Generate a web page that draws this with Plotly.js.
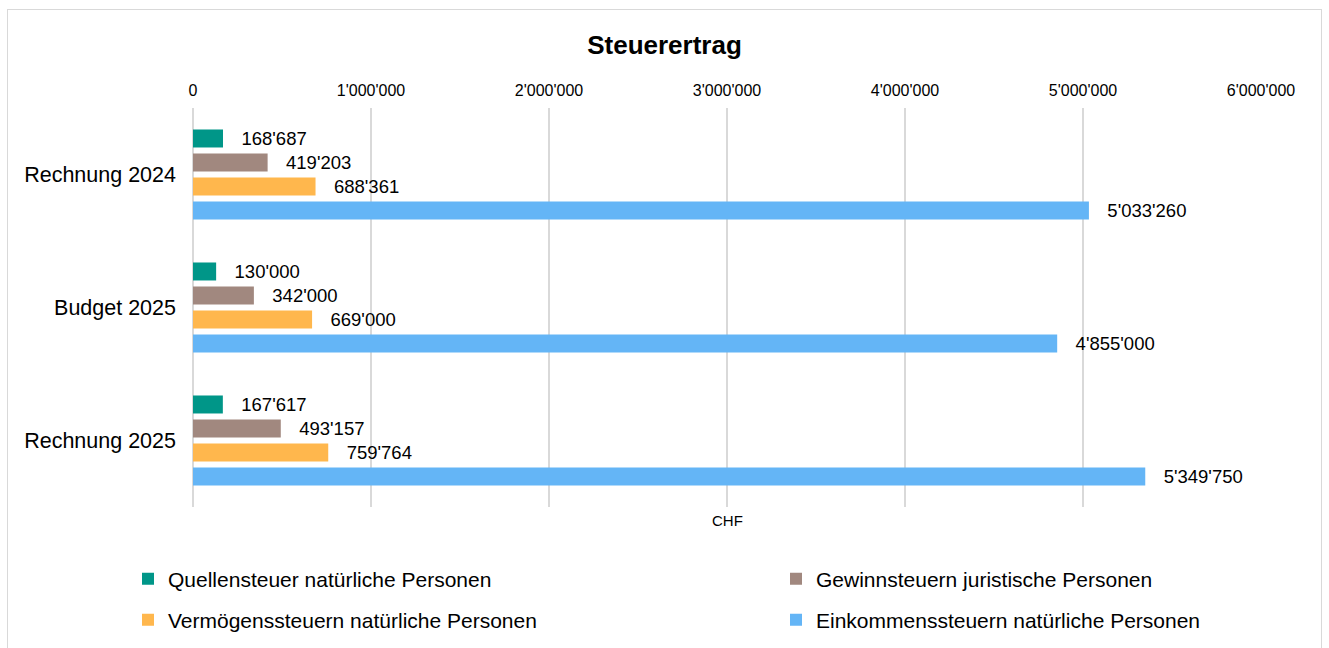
<!DOCTYPE html>
<html>
<head>
<meta charset="utf-8">
<script src="https://cdn.plot.ly/plotly-3.0.1.min.js"></script>
<style>
  html, body { margin: 0; padding: 0; background: #fff; }
  #chart { width: 1329px; height: 648px; }
  #frame { position: absolute; left: 7px; top: 9px; width: 1315px; height: 645px; border: 1px solid #d9d9d9; pointer-events: none; box-sizing: border-box; }
</style>
</head>
<body>
<div id="chart"></div>
<div id="frame"></div>
<script>
const categories = ["Rechnung 2024", "Budget 2025", "Rechnung 2025"];
const seriesNames = [
  "Quellensteuer natürliche Personen",
  "Gewinnsteuern juristische Personen",
  "Vermögenssteuern natürliche Personen",
  "Einkommenssteuern natürliche Personen"
];
const quellensteuer = [168687, 130000, 167617];
const gewinnsteuern = [419203, 342000, 493157];
const vermoegenssteuern = [688361, 669000, 759764];
const einkommenssteuern = [5033260, 4855000, 5349750];
const xTickValues = [0, 1000000, 2000000, 3000000, 4000000, 5000000, 6000000];

const colors = ["#009688", "#a1887f", "#ffb74d", "#64b5f6"];
const allValues = [quellensteuer, gewinnsteuern, vermoegenssteuern, einkommenssteuern];
const legendIds = ["legend", "legend2", "legend3", "legend4"];

const traces = allValues.map((vals, i) => ({
  type: "bar",
  orientation: "h",
  name: seriesNames[i],
  y: categories,
  x: vals,
  marker: { color: colors[i] },
  legend: legendIds[i],
  texttemplate: "\u00a0\u00a0\u00a0%{x:,d}",
  textposition: "outside",
  constraintext: "none",
  cliponaxis: false,
  textfont: { family: "Liberation Sans, Arial, sans-serif", size: 18.5, color: "#000" },
  hoverinfo: "skip"
}));

const legendFont = { family: "Liberation Sans, Arial, sans-serif", size: 21, color: "#000" };
function leg(x, y) {
  return { xref: "container", yref: "container", x: x, y: y, xanchor: "left", yanchor: "middle",
           font: legendFont, bgcolor: "rgba(0,0,0,0)", itemwidth: 30 };
}

const layout = {
  width: 1329,
  height: 648,
  separators: ".'",
  paper_bgcolor: "#fff",
  plot_bgcolor: "#fff",
  margin: { l: 193, r: 68, t: 108, b: 141, autoexpand: false },
  title: {
    text: "<b>Steuerertrag</b>",
    font: { family: "Liberation Sans, Arial, sans-serif", size: 26, color: "#000" },
    x: 0.5, xanchor: "center", xref: "container",
    y: 1 - 45 / 648, yanchor: "middle", yref: "container"
  },
  barmode: "group",
  bargap: 0.278,
  bargroupgap: 0.25,
  xaxis: {
    side: "top",
    range: [0, 6000000],
    tickvals: xTickValues,
    tickformat: ",d",
    tickangle: 0,
    automargin: false,
    ticklabelstandoff: 8,
    showgrid: true,
    gridcolor: "#d9d9d9",
    gridwidth: 1.5,
    zeroline: true,
    zerolinecolor: "#d9d9d9",
    zerolinewidth: 1.5,
    showline: false,
    ticks: "",
    tickfont: { family: "Liberation Sans, Arial, sans-serif", size: 16, color: "#000" },
    fixedrange: true
  },
  yaxis: {
    autorange: "reversed",
    automargin: false,
    showgrid: false,
    zeroline: false,
    showline: false,
    ticks: "",
    ticklabelstandoff: 16,
    tickfont: { family: "Liberation Sans, Arial, sans-serif", size: 21.5, color: "#000" },
    fixedrange: true
  },
  showlegend: true,
  legend: leg(128 / 1329, 1 - 579 / 648),
  legend2: leg(776 / 1329, 1 - 579 / 648),
  legend3: leg(128 / 1329, 1 - 620 / 648),
  legend4: leg(776 / 1329, 1 - 620 / 648),
  annotations: [{
    text: "CHF",
    xref: "paper", yref: "paper",
    x: 0.5, y: 0, xanchor: "center", yanchor: "middle",
    yshift: -13, showarrow: false,
    font: { family: "Liberation Sans, Arial, sans-serif", size: 15, color: "#000" }
  }]
};

Plotly.newPlot("chart", traces, layout, { displayModeBar: false, staticPlot: true });
</script>
</body>
</html>
